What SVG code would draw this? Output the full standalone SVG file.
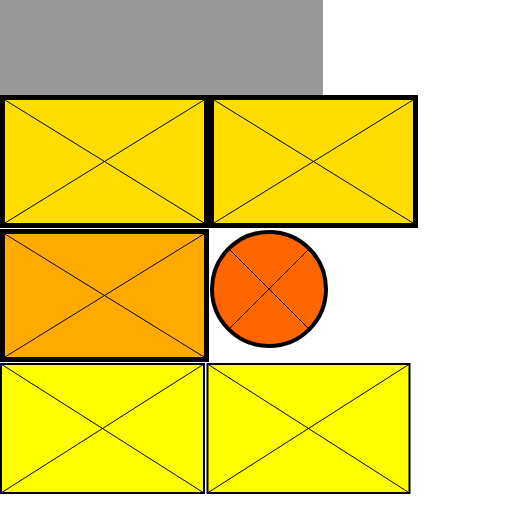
<svg xmlns="http://www.w3.org/2000/svg" width="512" height="512" viewBox="0 0 512 512">
<style>
.thick{stroke:#000;stroke-width:5}
.thin{stroke:#000;stroke-width:2}
.x{stroke:#000;stroke-width:1;fill:none}
.gold{fill:#FFDD00}
.orange{fill:#FFAA00}
.yellow{fill:#FFFF00}
.red{fill:#FF6600}
</style>
<rect width="512" height="512" fill="#fff"/>
<rect id="gray" x="0" y="0" width="323" height="95" fill="#999999"/>
<g id="n1">
<rect class="gold thick" x="2.5" y="97.5" width="204" height="128"/>
<path class="x" d="M5,100L204,223M204,100L5,223"/>
</g>
<g id="n2">
<rect class="gold thick" x="211.5" y="97.5" width="204" height="128"/>
<path class="x" d="M214,100L413,223M413,100L214,223"/>
</g>
<g id="n3">
<rect class="orange thick" x="2.5" y="231.5" width="204" height="128"/>
<path class="x" d="M5,234L204,357M204,234L5,357"/>
</g>
<g id="n4">
<circle class="red" cx="269" cy="289" r="57" stroke="#000" stroke-width="4"/>
<path class="x" d="M230,250L308,328M308,250L230,328"/>
</g>
<g id="n5">
<rect class="yellow thin" x="1" y="364" width="203" height="129"/>
<path class="x" d="M1,364L204,493M204,364L1,493"/>
</g>
<g id="n6">
<rect class="yellow thin" x="207.5" y="364" width="202" height="129"/>
<path class="x" d="M207.5,364L409.5,493M409.5,364L207.5,493"/>
</g>
<g id="connectors"></g>
</svg>
